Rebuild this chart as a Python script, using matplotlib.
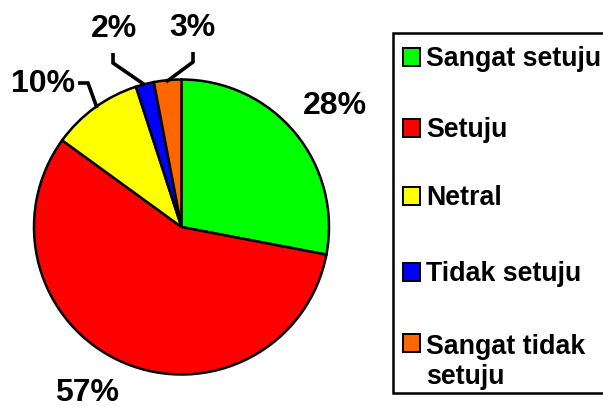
import matplotlib
matplotlib.use("Agg")
import matplotlib.pyplot as plt
from matplotlib.patches import Rectangle

categories = ["Sangat setuju", "Setuju", "Netral", "Tidak setuju", "Sangat tidak setuju"]
legend_labels = ["Sangat setuju", "Setuju", "Netral", "Tidak setuju", "Sangat tidak\nsetuju"]
values = [28, 57, 10, 2, 3]
pct_labels = ["28%", "57%", "10%", "2%", "3%"]
colors = ["#00FF00", "#FF0000", "#FFFF00", "#0000FF", "#FF6600"]

W, H = 603, 407
plt.rcParams['font.family'] = ['Liberation Sans', 'DejaVu Sans']
fig = plt.figure(figsize=(W / 100, H / 100), dpi=100)
ax = fig.add_axes([0, 0, 1, 1])
ax.set_xlim(0, W)
ax.set_ylim(0, H)
ax.set_aspect('equal')
ax.axis('off')

def py(y):
    return H - y

cx, cy, r = 181.5, 227, 147.5
ax.pie(values, colors=colors, startangle=90, counterclock=False,
       center=(cx, py(cy)), radius=r,
       wedgeprops=dict(edgecolor='black', linewidth=1.8))
ax.set_xlim(0, W)
ax.set_ylim(0, H)

# percentage label positions (pixel layout)
label_pos = [(335, 106), (87, 393), (43, 84), (114, 29), (192, 28)]
for txt, (x, y) in zip(pct_labels, label_pos):
    ax.text(x, py(y), txt, fontsize=23, fontweight='bold', ha='center', va='center')

# leader lines
leaders = {
    2: [(78, 83), (88, 83), (97, 108)],
    3: [(113, 53), (113, 63), (145, 85)],
    4: [(193, 52), (193, 62), (166, 82)],
}
for i, pts in leaders.items():
    xs = [p[0] for p in pts]
    ys = [py(p[1]) for p in pts]
    ax.plot(xs, ys, color='black', linewidth=2.6, solid_joinstyle='miter',
            solid_capstyle='butt')

# legend box
box = Rectangle((393, py(393)), 230, 360, facecolor='white', edgecolor='black',
                linewidth=1.8, clip_on=False)
ax.add_patch(box)
sq_centers = [57, 128, 196, 272, 343]
sq = 17.5
fs = 19.3
ls = 1.2
line_h = fs * ls * 100 / 72
for lab, col, yc in zip(legend_labels, colors, sq_centers):
    ax.add_patch(Rectangle((402.5, py(yc) - sq / 2), sq, sq, facecolor=col,
                           edgecolor='black', linewidth=1.4))
    nlines = lab.count("\n")
    ax.text(426, py(yc) - sq / 2 - nlines * line_h, lab, fontsize=fs, fontweight='bold',
            ha='left', va='baseline', linespacing=ls)

fig.savefig("out.png", dpi=100)
